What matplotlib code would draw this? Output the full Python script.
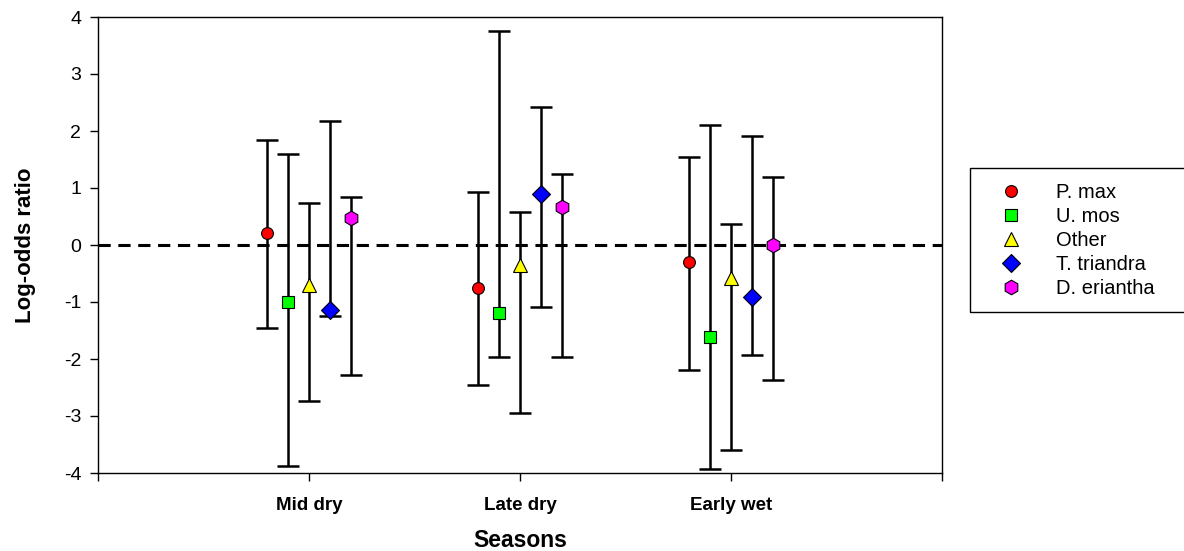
import matplotlib
matplotlib.use("Agg")
import matplotlib.pyplot as plt
from matplotlib.patches import Rectangle
import numpy as np

plt.rcParams['font.family'] = ['Liberation Sans', 'DejaVu Sans']

seasons = ["Mid dry", "Late dry", "Early wet"]
species = ["P. max", "U. mos", "Other", "T. triandra", "D. eriantha"]

# point estimates per species across seasons
est = {
    "P. max":      [0.21, -0.75, -0.30],
    "U. mos":      [-1.00, -1.19, -1.62],
    "Other":       [-0.70, -0.35, -0.58],
    "T. triandra": [-1.14, 0.90, -0.92],
    "D. eriantha": [0.47, 0.67, 0.00],
}
upper = {
    "P. max":      [1.84, 0.93, 1.54],
    "U. mos":      [1.60, 3.75, 2.11],
    "Other":       [0.74, 0.58, 0.37],
    "T. triandra": [2.18, 2.42, 1.92],
    "D. eriantha": [0.84, 1.25, 1.20],
}
lower = {
    "P. max":      [-1.46, -2.46, -2.19],
    "U. mos":      [-3.88, -1.96, -3.93],
    "Other":       [-2.74, -2.95, -3.60],
    "T. triandra": [-1.25, -1.09, -1.93],
    "D. eriantha": [-2.28, -1.96, -2.37],
}

markers = ["o", "s", "^", "D", "h"]
colors = ["#ff0000", "#00ff00", "#ffff00", "#0000ff", "#ff00ff"]
sizes = [8.5, 8.5, 9.5, 9, 10.5]
offsets = [-0.2, -0.1, 0.0, 0.1, 0.2]

fig = plt.figure(figsize=(11.84, 5.51), dpi=100)
ax = fig.add_axes([98/1184, 1 - 473/551, (942-98)/1184, (473-17)/551])

ax.plot([0, 4], [0, 0], color="black", linestyle=(0, (4, 2.5)), linewidth=2.2, zorder=1)

x = np.arange(1, len(seasons) + 1)
handles = []
for i, sp in enumerate(species):
    e = np.array(est[sp]); u = np.array(upper[sp]); l = np.array(lower[sp])
    xx = x + offsets[i]
    ax.errorbar(xx, e, yerr=[e - l, u - e], fmt="none", ecolor="black",
                elinewidth=1.8, capsize=8, capthick=1.8, zorder=2)
    h, = ax.plot(xx, e, linestyle="none", marker=markers[i], markersize=sizes[i],
                 markerfacecolor=colors[i], markeredgecolor="black",
                 markeredgewidth=0.8, zorder=3, label=sp)
    handles.append(h)

ax.set_xlim(0, 4)
ax.set_ylim(-4, 4)
ax.set_xticks([0, 1, 2, 3, 4])
ax.set_xticklabels(["", "Mid dry", "Late dry", "Early wet", ""], fontweight="bold", fontsize=13.5)
ax.set_yticks(range(-4, 5))
ax.set_yticklabels([str(v) for v in range(-4, 5)], fontsize=14)
ax.tick_params(axis="both", direction="out", length=6, width=1)
ax.tick_params(axis="x", pad=11)
ax.tick_params(axis="y", pad=6)
for s in ax.spines.values():
    s.set_linewidth(1)

ax.set_xlabel("Seasons", fontweight="bold", fontsize=16.5, labelpad=11)
ax.set_ylabel("Log-odds ratio", fontweight="bold", fontsize=16, labelpad=20)

leg = fig.legend(handles=handles, loc="upper left", bbox_to_anchor=(970/1184, 1 - 168/551),
                 frameon=False, fontsize=14.5,
                 handletextpad=0.9, borderpad=0.75, labelspacing=0.25, handlelength=2.6,
                 borderaxespad=0)
fig.patches.append(Rectangle((970/1184, 1 - 312/551), (1200-970)/1184, (312-168)/551,
                             transform=fig.transFigure, fill=False, edgecolor="black",
                             linewidth=1, clip_on=False))

fig.savefig("out.png", dpi=100)
